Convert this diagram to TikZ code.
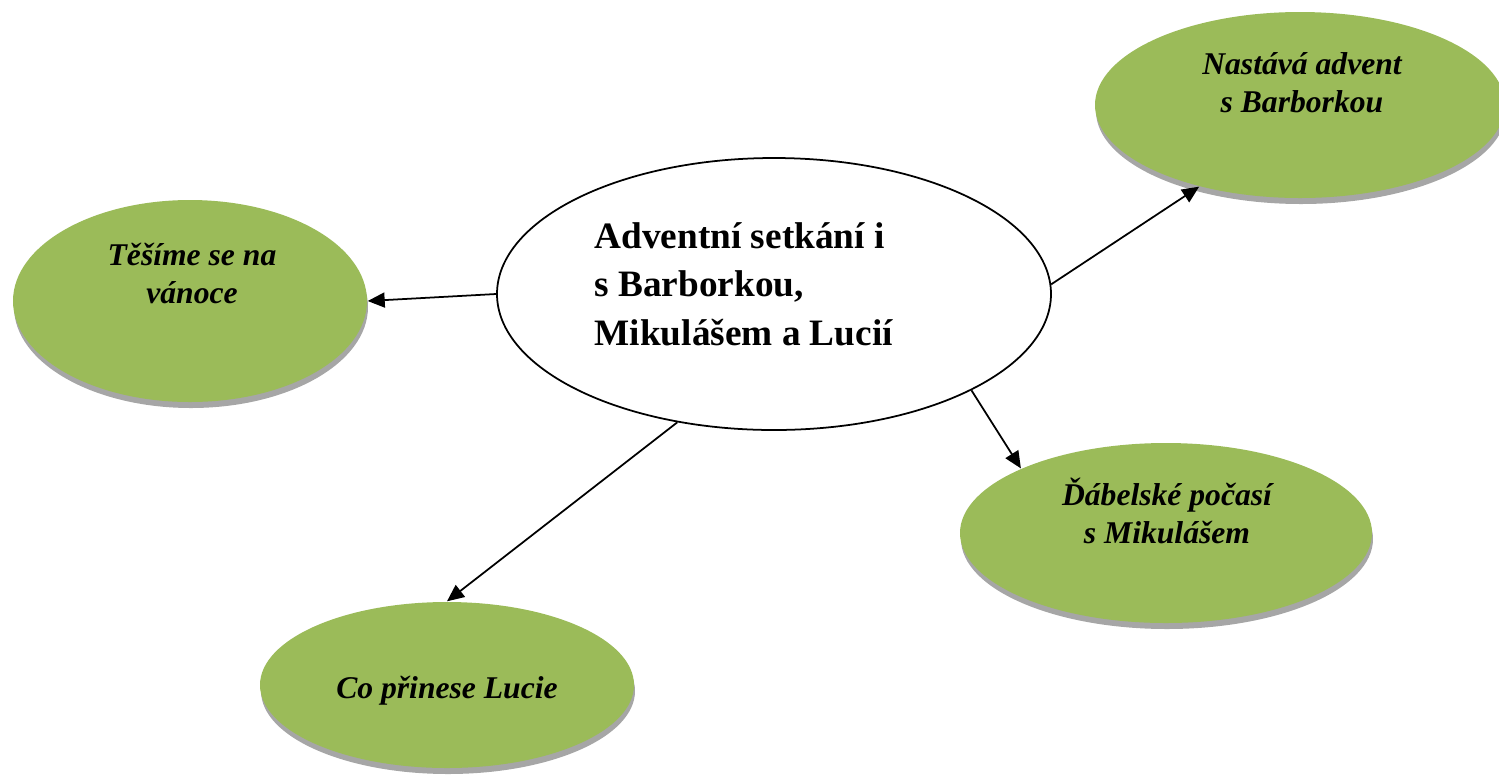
\documentclass[tikz,border=0pt]{standalone}
\usepackage{fontspec}
\setmainfont{Liberation Serif}
\usetikzlibrary{arrows.meta,shadows,shapes.geometric}

\definecolor{olivegreen}{HTML}{9BBB59}

\begin{document}
\begin{tikzpicture}[x=0.1mm,y=-0.1mm,>={Triangle[length=1.7mm,width=1.5mm]}]
    \tikzstyle{topic}=[ellipse,fill=olivegreen,inner sep=0pt,drop shadow={shadow xshift=0.1mm,shadow yshift=-0.6mm,fill=black!35,opacity=1}]
    \tikzstyle{main}=[ellipse,draw=black,line width=0.5pt,fill=white,minimum width=55.4mm,minimum height=27.2mm,inner sep=0pt]
    \tikzstyle{topic text}=[font=\fontsize{9}{10.6}\selectfont\bfseries\itshape,align=center,anchor=base,inner sep=0pt]
    \tikzstyle{main text}=[font=\fontsize{10.6}{13.8}\selectfont\bfseries,align=left,anchor=base west,inner sep=0pt]
    \tikzstyle{link}=[->,line width=0.5pt]

    \useasboundingbox (0,0) rectangle (1499,775);

    % Draw the central node
    \node[main] (C) at (774,294) {};
    \node[main text] (C-t) at (594,345) {Adventní setkání i\\s Barborkou,\\Mikulášem a Lucií};

    % Draw the topic nodes
    \foreach \name/\x/\y/\w/\h in {adv/1300/105/41/18.6, tes/190/301/35.4/20.2, dab/1166/533/41.2/18, luc/447/685/37.4/16.6}
        \node[topic,minimum width=\w mm,minimum height=\h mm] (\name) at (\x,\y) {};

    % Label the topic nodes (base = last line)
    \node[topic text] (adv-t) at (1302,112) {Nastává advent\\s Barborkou};
    \node[topic text] (tes-t) at (192,303) {Těšíme se na\\vánoce};
    \node[topic text] (dab-t) at (1167,543) {Ďábelské počasí\\s Mikulášem};
    \node[topic text] (luc-t) at (447,698) {Co přinese Lucie};

    % Connect the central node with every topic
    \draw[link] (C.180) -- (tes.0);
    \draw[link] (C.2.5) -- (adv.219.6);
    \draw[link] (C.-26) -- (dab.156.7);
    \draw[link] (C.233.5) -- (luc.90);

\end{tikzpicture}
\end{document}
